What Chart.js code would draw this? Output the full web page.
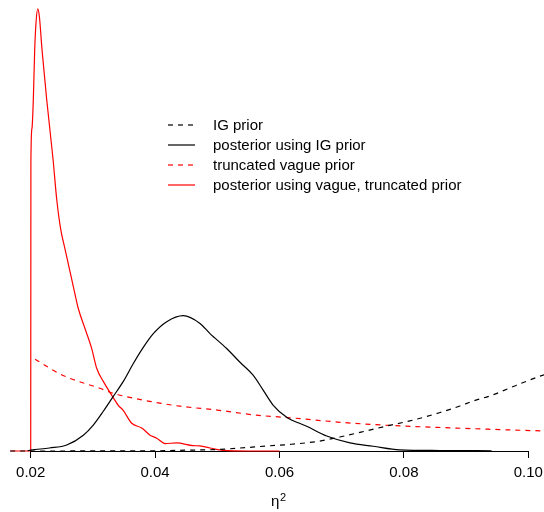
<!DOCTYPE html>
<html>
<head>
<meta charset="utf-8">
<script src="https://cdn.jsdelivr.net/npm/chart.js@4.4.1/dist/chart.umd.min.js"></script>
<style>
  html, body { margin: 0; padding: 0; background: #fff; }
  #wrap { width: 544px; height: 512px; }
</style>
</head>
<body>
<div id="wrap"><canvas id="densChart" width="544" height="512"></canvas></div>
<script>
// x-axis ticks
const xTicks = [0.02, 0.04, 0.06, 0.08, 0.10];

// IG prior (dashed black)
const igPriorX = [0.0167, 0.040, 0.045, 0.050, 0.0537, 0.0581, 0.0616, 0.0664, 0.0697, 0.0731, 0.0777, 0.0808, 0.0857, 0.0889, 0.0911, 0.0942, 0.0969, 0.1018, 0.1030];
const igPriorY = [0, 0.07, 0.27, 0.5, 1, 1.7, 2.2, 3.3, 4.7, 6.3, 8.6, 10, 12.8, 15, 16.7, 18.7, 21, 25, 25.8];

// posterior using IG prior (solid black)
const igPostX = [0.0195, 0.0200, 0.0230, 0.02579, 0.02846, 0.03006, 0.03167, 0.03328, 0.03489, 0.0365, 0.0381, 0.03971, 0.04187, 0.04453, 0.04722, 0.04883, 0.05151, 0.05365, 0.05579, 0.0574, 0.0590, 0.06116, 0.06437, 0.06759, 0.07133, 0.07508, 0.0793, 0.0858, 0.0941];
const igPostY = [0.1, 0.3, 1, 2, 5.3, 8.7, 13.3, 18.3, 23.3, 29.3, 34.7, 39.3, 43.3, 45.3, 42.7, 39.3, 34.3, 29.7, 25.3, 20.3, 15.3, 11.3, 8.3, 5, 2.7, 1.6, 0.4, 0.17, 0.07];

// truncated vague prior (dashed red)
const vaguePriorX = [0.0207, 0.0252, 0.0311, 0.0333, 0.0400, 0.0440, 0.0500, 0.0563, 0.0613, 0.0693, 0.0755, 0.0854, 0.0935, 0.1025];
const vaguePriorY = [30.7, 25.3, 21, 19.3, 16.3, 15, 13.7, 12, 11.2, 9.7, 8.8, 7.9, 7.3, 6.7];

// posterior using vague, truncated prior (solid red)
const vaguePostX = [0.0167, 0.0200, 0.02003, 0.0202, 0.02042, 0.02064, 0.02085, 0.02113, 0.0214, 0.02182, 0.02257, 0.02359, 0.02418, 0.02482, 0.02551, 0.02728, 0.02765, 0.02873, 0.02981, 0.03061, 0.03167, 0.03302, 0.03408, 0.03484, 0.03624, 0.03785, 0.03918, 0.04026, 0.04159, 0.04347, 0.04609, 0.04722, 0.04883, 0.05092, 0.0550, 0.0600];
const vaguePostY = [0, 0, 96.7, 108, 117.7, 134.3, 143.3, 148, 145.3, 134.3, 117.7, 97.7, 84.3, 74.3, 67.7, 51, 47.7, 41, 34.3, 27.7, 23.3, 18.7, 15.3, 13.7, 9.3, 7.7, 5.3, 4.3, 2.5, 2.7, 1.8, 1.7, 1, 0.2, 0, 0];

const FONT = "'Liberation Sans', Arial, Helvetica, sans-serif";

function toPoints(xs, ys) {
  return xs.map((x, i) => ({ x: x, y: ys[i] }));
}

// x軸の線は 0.02〜0.10 の間だけ引く
const axisLine = {
  id: "axisLine",
  beforeDatasetsDraw(chart) {
    const ctx = chart.ctx;
    const xs = chart.scales.x;
    const y = Math.round(chart.chartArea.bottom) + 0.5;
    ctx.save();
    ctx.strokeStyle = "#000";
    ctx.lineWidth = 1;
    ctx.beginPath();
    ctx.moveTo(xs.getPixelForValue(xTicks[0]), y);
    ctx.lineTo(xs.getPixelForValue(xTicks[xTicks.length - 1]), y);
    ctx.stroke();
    ctx.restore();
  },
};

// 軸タイトル η² (上付きの 2 は小さめのフォントで)
const axisTitle = {
  id: "axisTitle",
  afterDraw(chart) {
    const ctx = chart.ctx;
    const cx = (chart.chartArea.left + chart.chartArea.right) / 2;
    ctx.save();
    ctx.fillStyle = "#000";
    ctx.textBaseline = "alphabetic";
    ctx.textAlign = "left";
    ctx.font = "15px " + FONT;
    ctx.fillText("η", cx - 6, 505.5);
    ctx.font = "11px " + FONT;
    ctx.fillText("2", cx + 3, 500.5);
    ctx.restore();
  },
};

// 凡例をプロット内に描く
const innerLegend = {
  id: "innerLegend",
  afterDraw(chart) {
    const ctx = chart.ctx;
    const x0 = 168, x1 = 195, tx = 213, top = 125, step = 20;
    ctx.save();
    ctx.font = "15px " + FONT;
    ctx.textBaseline = "middle";
    ctx.textAlign = "left";
    chart.data.datasets.forEach((ds, i) => {
      const y = top + i * step;
      ctx.strokeStyle = ds.borderColor;
      ctx.lineWidth = ds.borderWidth;
      ctx.setLineDash(ds.borderDash || []);
      ctx.beginPath();
      ctx.moveTo(x0, y);
      ctx.lineTo(x1, y);
      ctx.stroke();
      ctx.setLineDash([]);
      ctx.fillStyle = "#000";
      ctx.fillText(ds.label, tx, y + 1);
    });
    ctx.restore();
  },
};

const dash = [5, 5];

new Chart(document.getElementById("densChart"), {
  type: "line",
  data: {
    datasets: [
      { label: "IG prior", data: toPoints(igPriorX, igPriorY), borderColor: "#000000", borderDash: dash },
      { label: "posterior using IG prior", data: toPoints(igPostX, igPostY), borderColor: "#000000" },
      { label: "truncated vague prior", data: toPoints(vaguePriorX, vaguePriorY), borderColor: "#ff0000", borderDash: dash },
      { label: "posterior using vague, truncated prior", data: toPoints(vaguePostX, vaguePostY), borderColor: "#ff0000" },
    ].map((d) => Object.assign({
      borderWidth: 1.2,
      pointRadius: 0,
      fill: false,
      clip: false,
      cubicInterpolationMode: "monotone",
    }, d)),
  },
  options: {
    responsive: false,
    animation: false,
    events: [],
    layout: { padding: { left: 10, right: 0, top: 0, bottom: 24 } },
    plugins: {
      legend: { display: false },
      tooltip: { enabled: false },
    },
    scales: {
      x: {
        type: "linear",
        min: 0.01667,
        max: 0.10253,
        afterBuildTicks: (scale) => {
          scale.ticks = xTicks.map((v) => ({ value: v }));
        },
        // 右端のラベル用の余白を付けない（プロット領域を右端まで使う）
        afterFit: (scale) => {
          scale.paddingRight = 0;
          scale.paddingLeft = 0;
        },
        ticks: {
          autoSkip: false,
          maxRotation: 0,
          padding: 6,
          color: "#000",
          font: { family: FONT, size: 15 },
          callback: (v) => Number(v).toFixed(2),
        },
        grid: { drawOnChartArea: false, drawTicks: true, tickLength: 7, color: "#000", lineWidth: 1 },
        border: { display: false },
        title: { display: false },
      },
      y: {
        display: false,
        min: 0,
        max: 151,
      },
    },
  },
  plugins: [axisLine, axisTitle, innerLegend],
});
</script>
</body>
</html>
